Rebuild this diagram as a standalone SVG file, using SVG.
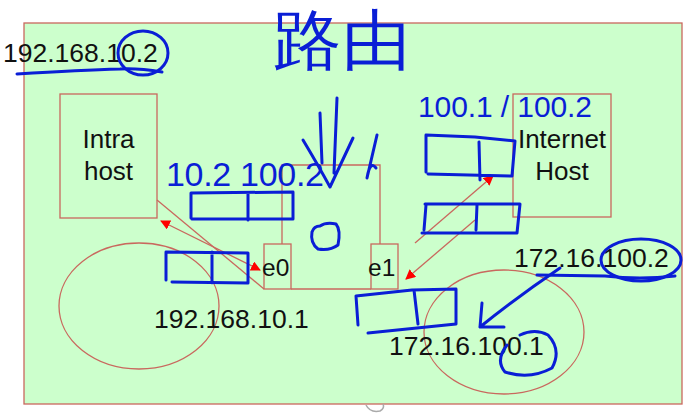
<svg xmlns="http://www.w3.org/2000/svg" width="692" height="418" viewBox="0 0 692 418">
<style>
.box{fill:none;stroke:#c9685e;stroke-width:1.3}
.lbl{font-family:"Liberation Sans",Arial,sans-serif;font-size:26px;fill:#111}
.ip{font-size:26.5px}
.ln{stroke:#c9685e;stroke-width:1.3;fill:none}
.ink{fill:none;stroke:#0a1ed6;stroke-width:3;stroke-linecap:round;stroke-linejoin:round}
.hw{font-family:"Liberation Sans",Arial,sans-serif;fill:#0a1ed6}
</style>
<defs>
<marker id="ah" viewBox="0 0 10 10" refX="9" refY="5" markerWidth="10" markerHeight="10" markerUnits="userSpaceOnUse" orient="auto-start-reverse">
<path d="M0,0 L10,5 L0,10 Z" fill="#ff0000"/>
</marker>
</defs>
<rect x="0" y="0" width="692" height="418" fill="#ffffff"/>
<g id="frame">
<rect x="24" y="23" width="658" height="381" fill="#ccffcc" stroke="#c9685e" stroke-width="1.3"/>
</g>
<g id="lan-left"><ellipse cx="139" cy="306" rx="80" ry="63" class="box"/></g>
<g id="lan-right"><ellipse cx="504" cy="332" rx="80" ry="62" class="box"/></g>
<g id="intra-host">
<rect x="60" y="94" width="97" height="124" class="box"/>
<text class="lbl" x="108.5" y="148" text-anchor="middle">Intra</text>
<text class="lbl" x="108.5" y="180" text-anchor="middle">host</text>
</g>
<g id="internet-host">
<rect x="513" y="94" width="98" height="123" class="box"/>
<text class="lbl" x="562" y="148" text-anchor="middle">Internet</text>
<text class="lbl" x="562" y="180" text-anchor="middle">Host</text>
</g>
<g id="router">
<path d="M282,244 V165 H380 V244 M291,289 H371" class="box"/>
</g>
<g id="e0">
<rect x="264" y="244" width="27" height="45" class="box"/>
<text class="lbl" x="262" y="276" style="font-size:24.5px">e0</text>
</g>
<g id="e1">
<rect x="371" y="244" width="27" height="45" class="box"/>
<text class="lbl" x="368" y="276" style="font-size:24.5px">e1</text>
</g>
<g id="connectors">
<line x1="157" y1="200" x2="264" y2="289" class="ln"/>
<line x1="161" y1="221" x2="260" y2="270" class="ln" marker-start="url(#ah)" marker-end="url(#ah)"/>
<line x1="415" y1="243" x2="493" y2="176" class="ln" marker-end="url(#ah)"/>
<line x1="475" y1="220" x2="406" y2="279" class="ln" marker-end="url(#ah)"/>
</g>
<g id="labels">
<text class="lbl ip" x="3" y="62">192.168.10.2</text>
<text class="lbl ip" x="154" y="328">192.168.10.1</text>
<text class="lbl ip" x="389" y="355">172.16.100.1</text>
<text class="lbl ip" x="514" y="267">172.16.100.2</text>
</g>
<g id="annotations">
<text class="hw" x="273" y="63" font-size="66" font-family="'Noto Sans CJK SC',sans-serif" textLength="137" lengthAdjust="spacingAndGlyphs">路由</text>
<text class="hw" x="166" y="186" font-size="34" textLength="158" lengthAdjust="spacing">10.2 100.2</text>
<text class="hw" x="418" y="117" font-size="30" textLength="174" lengthAdjust="spacing">100.1 / 100.2</text>
<path class="ink" d="M17,74 C50,72 85,70 120,69 C135,68 150,70 162,72"/>
<ellipse class="ink" cx="143" cy="53" rx="25" ry="22"/>
<path class="ink" d="M320,113 L322,163 M337,98 L334,173 M303,140 Q318,165 330,187 L353,138 M377,135 L367,178 Q370,160 376,168"/>
<path class="ink" d="M191,193 L293,192 L293,219 L192,219 M191,193 L191,218 M248,193 L248,220"/>
<path class="ink" d="M166,252 L248,253 L248,283 L172,282 M166,252 L166,280 M212,252 L212,283"/>
<path class="ink" d="M426,135 L426,172 M426,135 L475,137 L515,141 L512,176 M428,174 L512,176 M479,142 L480,180"/>
<path class="ink" d="M425,204 L520,204 L517,233 L422,233 M426,205 L424,230 M477,205 L476,230"/>
<path class="ink" d="M356,296 L358,325 M356,296 L412,290 L456,289 L456,324 M368,333 L456,324 M414,290 L418,324"/>
<path class="ink" d="M320,226 Q326,222 336,224 Q341,230 338,245 Q330,251 318,249 Q310,243 312,232 Q314,226 320,226 Z"/>
<ellipse class="ink" cx="641" cy="260" rx="40" ry="21"/>
<path class="ink" d="M537,275 L605,276 Q640,280 675,276"/>
<path class="ink" d="M560,268 Q520,295 480,327 M482,303 L480,327 L504,327"/>
<path class="ink" d="M507,345 Q495,360 505,372 Q530,380 552,368 Q562,350 548,335 Q535,328 520,335"/>
<path d="M366,405 Q370,413 380,411 Q385,408 383,404" fill="none" stroke="#aaaaaa" stroke-width="1.5"/>
</g>
</svg>
